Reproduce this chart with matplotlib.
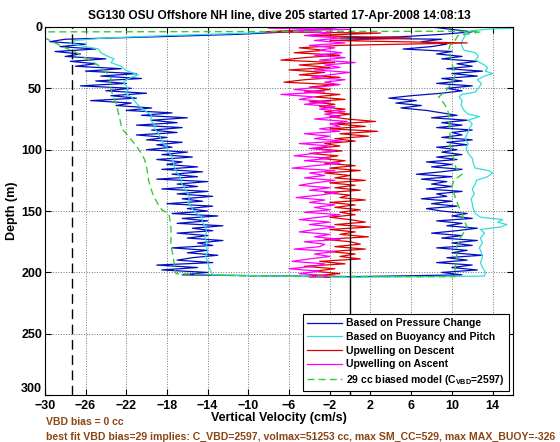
import matplotlib
matplotlib.use('Agg')
import matplotlib.pyplot as plt

plt.rcParams['font.family'] = ['Liberation Sans', 'DejaVu Sans']
plt.rcParams['font.weight'] = 'bold'

# Based on pressure change (descent then ascent)
blue_depth = [0, 2, 4, 6, 8, 10, 12, 14, 16, 18, 20, 22, 24, 26, 28, 30, 32, 34, 36, 38, 40, 42, 44, 46, 48, 50,
              52, 54, 56, 58, 60, 62, 64, 66, 68, 70, 72, 74, 76, 78, 80, 82, 84, 86, 88, 90, 92, 94, 96, 98,
              100, 102, 104, 106, 108, 110, 112, 114, 116, 118, 120, 122, 124, 126, 128, 130, 132, 134, 136, 138,
              140, 142, 144, 146, 148, 150, 152, 154, 156, 158, 160, 162, 164, 166, 168, 170, 172, 174, 176, 178,
              180, 182, 184, 186, 188, 190, 192, 194, 196, 198, 200, 202, 203.5,
              202, 200, 198, 196, 194, 192, 190, 188, 186, 184, 182, 180, 178, 176, 174, 172, 170, 168, 166, 164,
              162, 160, 158, 156, 154, 152, 150, 148, 146, 144, 142, 140, 138, 136, 134, 132, 130, 128, 126, 124,
              122, 120, 118, 116, 114, 112, 110, 108, 106, 104, 102, 100, 98, 96, 94, 92, 90, 88, 86, 84,
              82, 80, 78, 76, 74, 72, 70, 68, 66, 64, 62, 60, 58, 56, 54, 52, 50, 48, 46, 44, 42, 40, 38, 36,
              34, 32, 30, 28, 26, 24, 22, 20, 18, 16, 14, 12, 10, 9, 8, 6, 4, 2, 0]
blue_vel = [-1, -3, -6, -11, -19, -28, -29.5, -26, -28.5, -25, -29, -26.5, -28, -24, -27.5, -25, -27, -22.5, -26, -21,
            -24.5, -20.5, -25, -22, -26.5, -21.5, -24, -20, -23.5, -21, -25.5, -21.5, -23, -19.5, -22, -17.5, -20.5,
            -16, -19.5, -17, -21, -16.5, -19.5, -17, -21, -18, -20, -16.5, -19, -17.5, -20, -16, -18.5, -15.5, -19,
            -16.5, -18, -15, -18.5, -14.5, -17.5, -15, -19, -14, -17, -15, -18.5, -14, -17, -13.5, -16.5, -14.5, -18,
            -13.5, -16, -14, -17.5, -13, -16.5, -14, -17, -12.5, -15.5, -13.5, -17, -14, -16, -12.5, -15, -13.5,
            -17.5, -14, -16, -13, -15.5, -17, -13.5, -19, -15, -18.5, -14, -16.5, 0,
            11, 9, 12.5, 10, 12, 8.5, 11.5, 9.5, 13, 10, 11.5, 8.5, 12, 10, 12.5, 9, 11, 8, 10.5, 12.5,
            9.5, 11, 8.5, 12, 10, 11.5, 9, 7.5, 10.5, 8, 10, 7, 9.5, 8.5, 11, 7.5, 10, 8, 9.5, 7,
            10, 6.5, 9, 11, 8, 10, 7.5, 10.5, 8.5, 11, 9, 10.5, 8.5, 11.5, 9.5, 12, 9, 11, 10, 12,
            8.5, 11, 9, 11.5, 8, 10.5, 9, 7.5, 5, 7, 4.5, 6.5, 3.8, 6, 9, 11, 9.5, 12, 8.5, 11, 9, 12.5, 10, 13,
            9.5, 12, 10.5, 12.5, 9, 11, 8.5, 10, 5.2, 8, 9.5, 7, 9, -1, 5, 9, 12, 10, 8]

# Based on buoyancy and pitch
cyan_depth = [0, 3, 5, 7, 9, 11, 13, 16, 18, 21, 24, 26, 29, 32, 35, 37, 39, 41, 43, 45, 48, 51, 54, 57, 60, 64,
              68, 72, 76, 80, 83, 87, 91, 94, 98, 102, 105, 109, 113, 116, 120, 124, 127, 131, 135, 139, 143, 147,
              151, 155, 159, 163, 167, 171, 175, 179, 183, 187, 191, 195, 199, 202, 204,
              203, 200, 196, 192, 188, 184, 180, 176, 172, 168, 165, 163, 161, 159, 157, 155, 152, 148, 144, 140,
              136, 132, 128, 125, 122, 119, 117, 115, 111, 107, 103, 99, 95, 91, 87, 83, 79, 76, 73, 71, 68, 64,
              60, 57, 55, 53, 51, 49, 46, 43, 40, 38, 36, 33, 30, 27, 24, 21, 19, 16, 13, 10, 7, 5, 3, 1.5, 1]
cyan_vel = [-1, -6, -10, -18, -24, -27, -27.5, -26, -24.7, -24.5, -23.8, -23.2, -23.5, -22.5, -22.1, -21.5, -20.8,
            -21.5, -22, -22.3, -22, -21.8, -22.1, -21.5, -21.2, -20.8, -20.2, -19.5, -19.6, -19.2, -19.2, -18.8,
            -18.6, -18.4, -18, -17.8, -17.6, -17.4, -17.3, -17.2, -16.9, -16.6, -16.6, -16.3, -16, -15.8, -15.9,
            -15.6, -15.2, -14.6, -14.5, -14.2, -14.1, -14.3, -14.1, -14.1, -14, -14.2, -14, -13.9, -13.7, -13.5, 0,
            13.2, 13.3, 13, 12.8, 13, 12.9, 12.7, 13, 12.8, 13.2, 12.8, 14.8, 15.4, 14.5, 15, 12.8, 12.3, 12.1, 12,
            11.9, 12.2, 12, 12.3, 12.4, 13.5, 14, 13.6, 12.3, 12.1, 12, 11.6, 11.4, 11.6, 11.3, 11.5, 11.7, 12,
            11.6, 12.7, 11.6, 11.2, 10.9, 11, 10.7, 11, 12.3, 12.5, 12.7, 12.9, 12.5, 13.2, 14, 13.3, 13.5, 13,
            12.3, 12.6, 12.3, 11.2, 11, 10.9, 11.1, 11.3, 11.2, 12, 14, 16]

# Upwelling on descent
red_depth = [0, 2, 4, 5, 7, 9, 11, 13, 15, 17, 19, 21, 23, 25, 27, 29, 31, 33, 35, 37, 39, 41, 43, 45, 47, 49,
             51, 53, 55, 57, 59, 61, 63, 65, 67, 69, 71, 73, 75, 77, 79, 81, 83, 85, 87, 89, 91, 93, 95, 97, 99,
             101, 103, 105, 107, 109, 111, 113, 115, 117, 119, 121, 123, 125, 127, 129, 131, 133, 135, 137, 139,
             141, 143, 145, 147, 149, 151, 153, 155, 157, 159, 161, 163, 165, 167, 169, 171, 173, 175, 177, 179,
             181, 183, 185, 187, 189, 191, 193, 195, 197, 199, 201, 203, 204]
red_vel = [-1, -3, -8.5, 3, -4, 6, -2, 11.5, -1, -5, -2.5, -5.5, -1, -4.5, -6.8, -1.5, -5, -2, -6, -2.5, -5, -1,
           -4.5, -6.5, -1.5, -4, -2, -4.5, -1, -3.5, -0.5, -4, -1.5, -3, -0.5, -2.5, 0, -2, -0.3, 2.5, -1.5, 1.5,
           -2, 2.7, -1, 1.8, -1.5, 0.5, -2.5, -1, -3.5, -0.8, -4, -1.2, -3, -0.5, -2.5, 0.5, -2, 1, -2.5, 0, -1.5,
           1.5, -2, 0.5, -1.5, 1, -2.5, 0, -1, 1.5, -2, 0.5, -1.5, 1, -1, 0.5, -2, 0, 1.5, -1.5, 2, -2, 0.5, -1,
           1.8, -2.5, 0, 1, -1.5, 1.5, -2, 0.5, -1, 1, -3, -0.5, -4.5, -1.5, -3.5, -1, -4, -2]

# Upwelling on ascent
mag_depth = [0, 1, 2, 3, 5, 7, 9, 11, 13, 15, 17, 19, 21, 23, 25, 27, 29, 31, 33, 35, 37, 39, 41, 43, 45, 47, 49,
             51, 53, 55, 57, 59, 61, 63, 65, 67, 69, 71, 73, 75, 77, 79, 81, 83, 85, 87, 89, 91, 93, 95, 97, 99,
             101, 103, 105, 107, 109, 111, 113, 115, 117, 119, 121, 123, 125, 127, 129, 131, 133, 135, 137, 139,
             141, 143, 145, 147, 149, 151, 153, 155, 157, 159, 161, 163, 165, 167, 169, 171, 173, 175, 177, 179,
             181, 183, 185, 187, 189, 191, 193, 195, 197, 199, 201, 203, 204]
mag_vel = [-3, -8, 0, -5.5, -2, -4.5, -1, -3.5, -0.5, -4, -1.5, -3, -0.8, -3.5, -0.5, -3, 0.5, -2.5, -1, -3.5, 0,
           -2, -3.8, -0.5, -2.5, -1, -3, -5.5, -2.5, -6.8, -3.5, -5, -2, -4.5, -1.5, -3, -0.5, -2.5, -1, -3.5,
           -0.3, -2, -1, -3, -1, -4.5, -2, -3.5, -0.8, -5, -2, -4, -1.5, -3.5, -5.5, -2, -4.5, -1, -3.5, -5.7,
           -1.5, -4, -2.5, -4.5, -1.5, -3.5, -5, -2, -4, -1.2, -3, -5.3, -2.5, -4, -1.5, -3.5, -2, -4.5, -1, -3,
           -5, -2, -4, -1.5, -3.5, -5, -2, -3.5, -1, -4.5, -2.5, -3, -5.5, -1.5, -3.5, -2, -4, -5.7, -2.5, -3.5,
           -6, -3, -5, -1.5, -4]

# 29 cc biased model
green_depth = [3.5, 4, 9, 13, 17, 20, 23, 26, 30, 33, 37, 41, 46, 51, 56, 62, 69, 76, 80, 84, 88, 92, 97, 103, 108,
               114, 119, 125, 131, 138, 144, 149, 152, 158, 165, 172, 179, 186, 192, 198, 201, 203,
               203.5, 198, 192, 185, 179, 172, 167, 163, 158, 152, 145, 138, 130, 125, 120, 115, 108, 102, 97,
               92, 87, 82, 76, 72, 68, 62, 57, 53, 49, 45, 40, 35, 30, 25, 19, 15, 11, 7, 4]
green_vel = [12.5, -30.5, -30, -29, -28, -27.1, -26.5, -25.8, -25, -24.4, -24, -23.5, -23.6, -23.5, -23.3, -23,
             -22.8, -22.6, -22.5, -22.3, -21.9, -21.5, -21, -20.5, -20.2, -20, -19.9, -19.8, -19.6, -19.3, -18.9,
             -18.5, -17.8, -17.7, -17.6, -17.6, -17.6, -17.4, -17.3, -17.2, -17.1, -10,
             10.3, 10.3, 10.4, 10.5, 10.5, 10.8, 11.2, 11.5, 11.2, 11, 10.6, 10.3, 10, 10.2, 11, 10.4, 10.2, 10,
             9.8, 9.8, 9.8, 9.8, 9.7, 9.7, 9.6, 9.2, 8.7, 9.3, 9.7, 10, 10.3, 10.2, 10, 9.9, 9.7, 9.8, 10.3,
             10.6, 12.8]

vbd_bias_line = -27.3
x_ticks = list(range(-30, 15, 4))
y_ticks = list(range(0, 301, 50))

fig = plt.figure(figsize=(5.6, 4.42), dpi=100)
ax = fig.add_axes([0.080, 0.106, 0.836, 0.833])

ax.plot(blue_vel, blue_depth, color='#0010c0', lw=0.9, label='Based on Pressure Change')
ax.plot(cyan_vel, cyan_depth, color='#33dddd', lw=0.9, label='Based on Buoyancy and Pitch')
ax.plot(red_vel, red_depth, color='#dd0000', lw=0.9, label='Upwelling on Descent')
ax.plot(mag_vel, mag_depth, color='#ff00ff', lw=0.9, label='Upwelling on Ascent')
ax.plot(green_vel, green_depth, color='#33cc33', lw=1.0, ls=(0, (5, 3)),
        label=r'29 cc biased model (C$_\mathregular{VBD}$=2597)')

ax.axvline(0, color='black', lw=1.0)
ax.axvline(vbd_bias_line, color='black', lw=1.0, ls=(0, (7, 4)))

ax.set_xlim(-30, 16)
ax.set_ylim(300, 0)
ax.set_xticks(x_ticks)
ax.set_yticks(y_ticks)
ax.grid(True, ls=':', color='0.45', lw=0.7)
ax.tick_params(direction='in', top=True, right=True, length=4, labelsize=9, pad=2)
ax.tick_params(axis='x', pad=3.5)
for lbl in ax.get_xticklabels() + ax.get_yticklabels():
    lbl.set_fontweight('bold')
ax.get_yticklabels()[-1].set_va('bottom')

ax.set_title('SG130 OSU Offshore NH line, dive 205 started 17-Apr-2008 14:08:13',
             fontsize=8.6, fontweight='bold', pad=6)
ax.set_xlabel('Vertical Velocity (cm/s)', fontsize=9, fontweight='bold', labelpad=0)
ax.set_ylabel('Depth (m)', fontsize=9, fontweight='bold', labelpad=2)

leg = ax.legend(loc='lower right', fontsize=7.5, handlelength=3.3, frameon=True, fancybox=False,
                framealpha=1, edgecolor='black', borderaxespad=0.4, labelspacing=0.35,
                handletextpad=0.4, borderpad=0.4)
leg.get_frame().set_linewidth(0.8)
for t in leg.get_texts():
    t.set_fontweight('bold')

brown = '#8c4614'
fig.text(0.082, 0.045, 'VBD bias = 0 cc', color=brown, fontsize=7.5, fontweight='bold', va='center')
fig.text(0.082, 0.012, 'best fit VBD bias=29 implies: C_VBD=2597, volmax=51253 cc, max SM_CC=529, '
         'max MAX_BUOY=-326', color=brown, fontsize=7.6, fontweight='bold', va='center')

fig.savefig('out.png', dpi=100)
